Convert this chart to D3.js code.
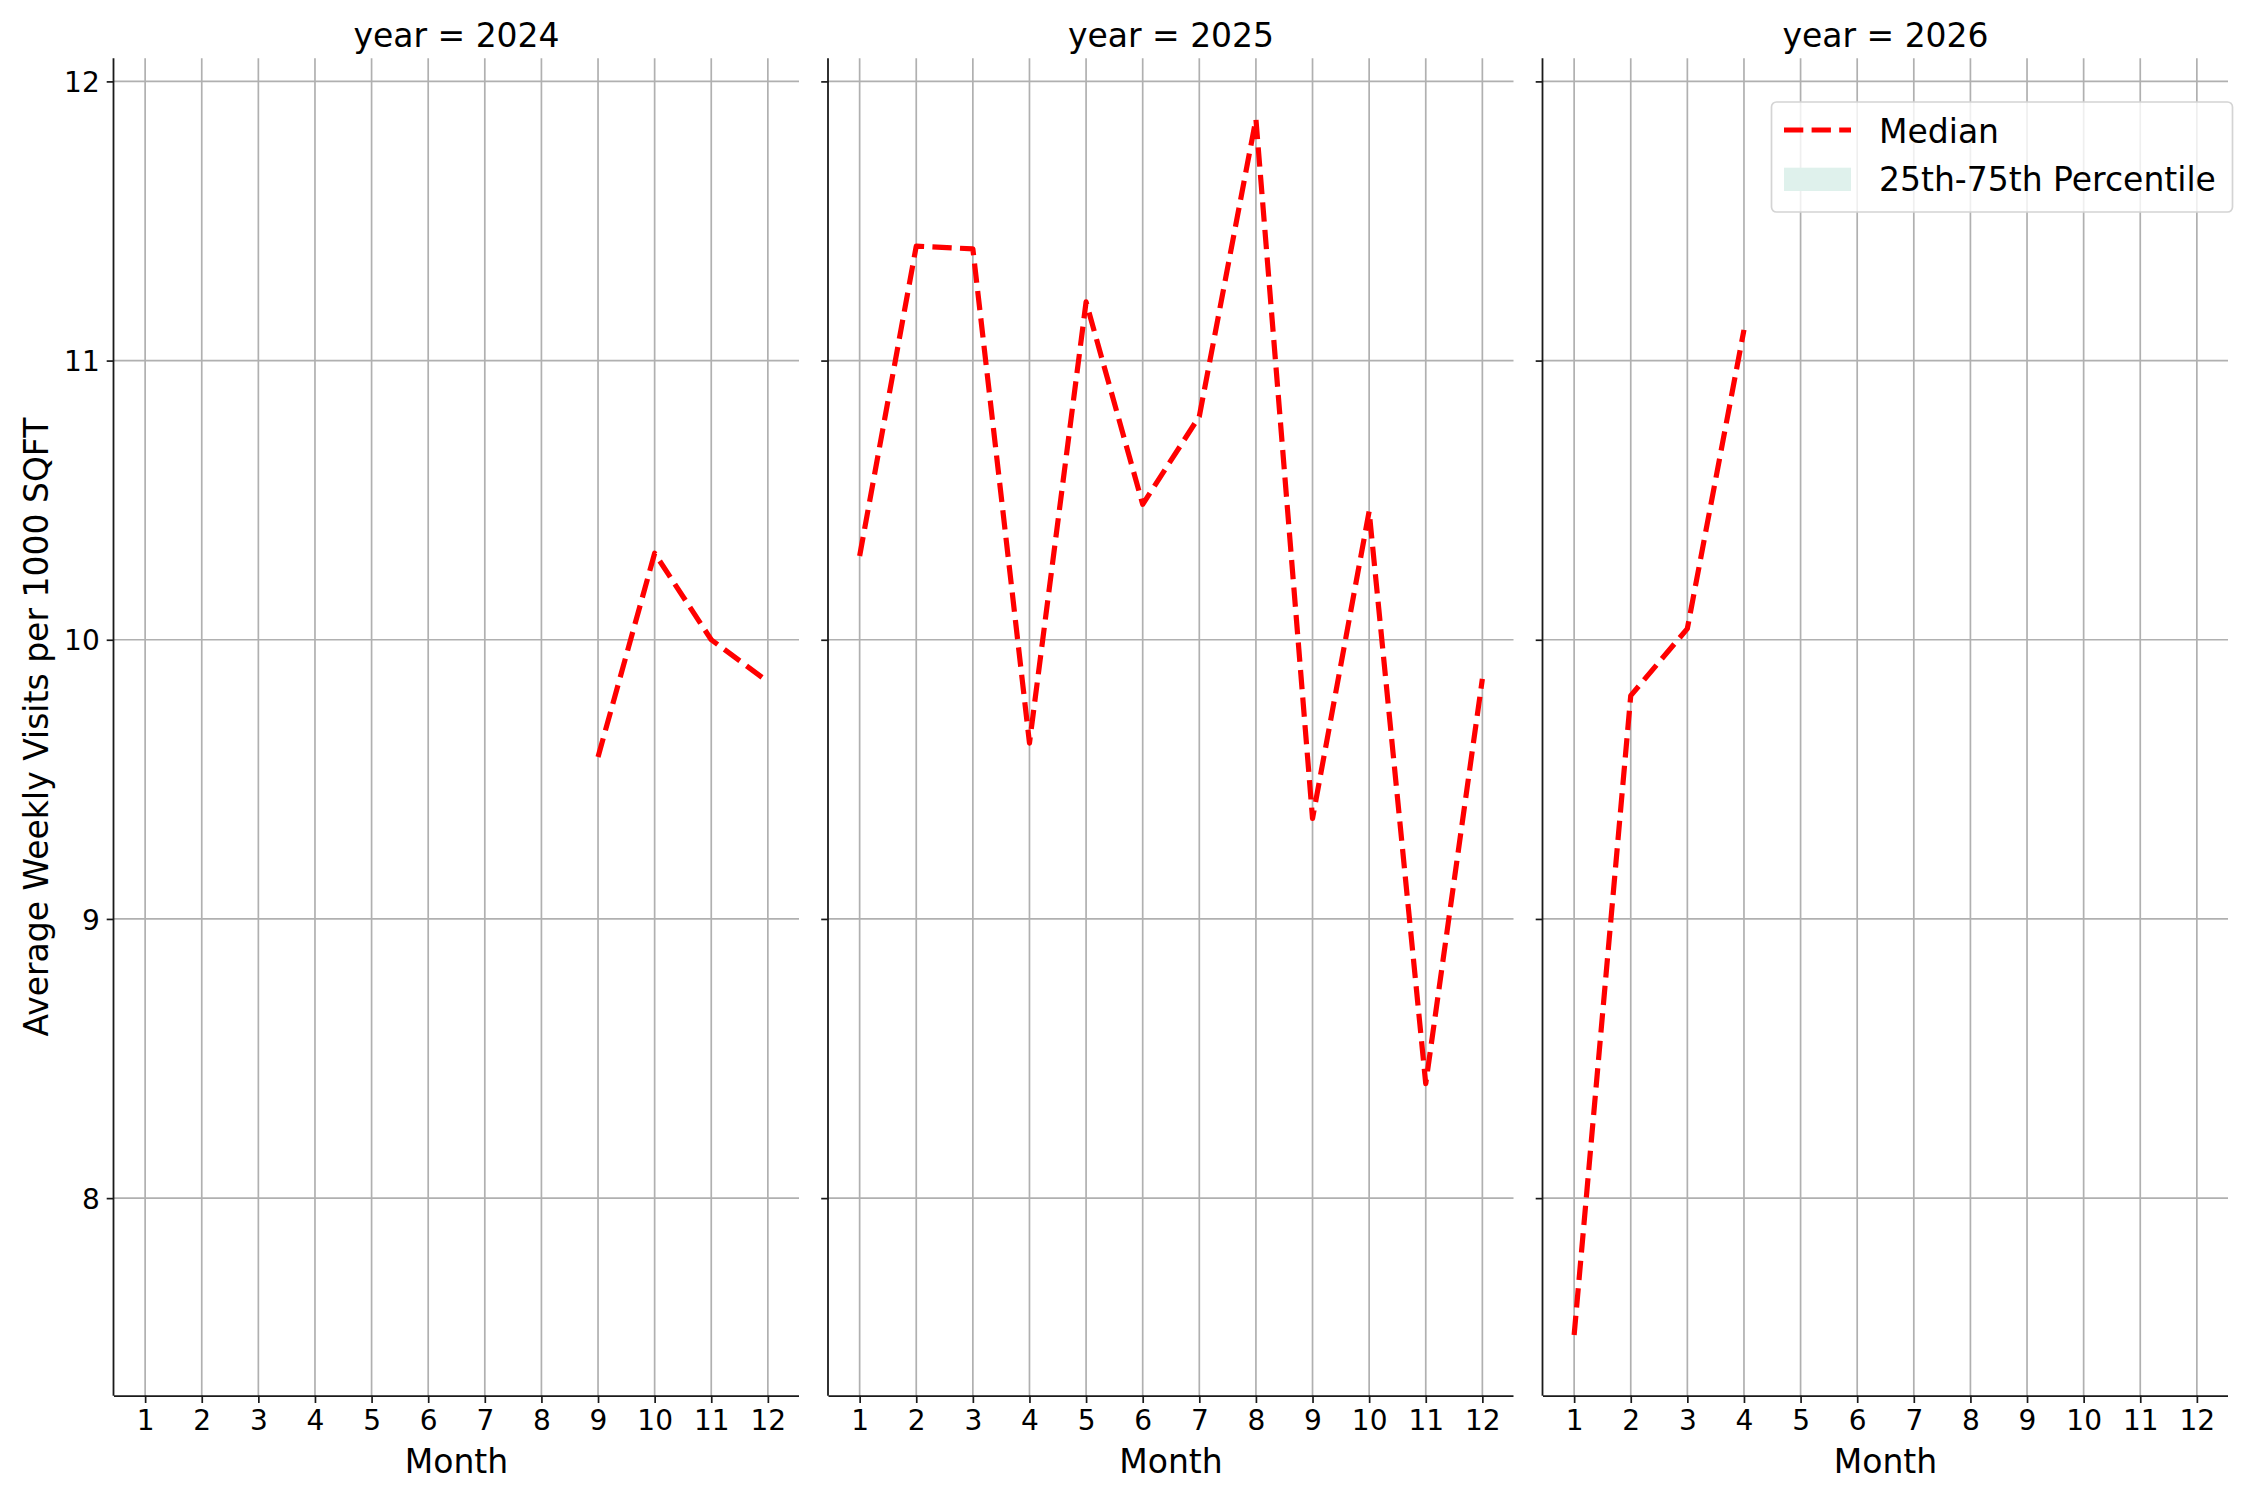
<!DOCTYPE html>
<html>
<head>
<meta charset="utf-8">
<script src="https://cdn.jsdelivr.net/npm/d3@7"></script>
<style>
  body { margin: 0; background: #fff; }
  svg { display: block; font-family: "DejaVu Sans", sans-serif; }
</style>
</head>
<body>
<div id="chart"></div>
<script>
// Datos del gráfico
const years = [2024, 2025, 2026];
const monthTicks = [1, 2, 3, 4, 5, 6, 7, 8, 9, 10, 11, 12];
const yTicks = [8, 9, 10, 11, 12];

const months2024 = [9, 10, 11, 12];
const median2024 = [9.58, 10.31, 10.00, 9.85];

const months2025 = [1, 2, 3, 4, 5, 6, 7, 8, 9, 10, 11, 12];
const median2025 = [10.30, 11.41, 11.40, 9.63, 11.21, 10.485, 10.80, 11.865, 9.36, 10.46, 8.41, 9.86];

const months2026 = [1, 2, 3, 4];
const median2026 = [7.51, 9.80, 10.04, 11.11];

const legendLabels = ['Median', '25th-75th Percentile'];

// Series por panel
const panels = [
    { year: years[0], months: months2024, median: median2024 },
    { year: years[1], months: months2025, median: median2025 },
    { year: years[2], months: months2026, median: median2026 }
];

const chartW = 2250, chartH = 1500;
const panelLeft = [114, 828.5, 1543];
const panelW = 685;
const plotTop = 58.3, plotBottom = 1395.7;

const svg = d3.select('#chart').append('svg')
    .attr('width', chartW)
    .attr('height', chartH);

// Escala Y compartida con margen del 5%
const allValues = [].concat(median2024, median2025, median2026);
const yMin = d3.min(allValues), yMax = d3.max(allValues);
const yPad = (yMax - yMin) * 0.05;
const y = d3.scaleLinear()
    .domain([yMin - yPad, yMax + yPad])
    .range([plotBottom, plotTop]);

const gridColor = '#b0b0b0';
const axisColor = '#1a1a1a';

panels.forEach((p, i) => {
    const x0 = panelLeft[i];
    const x = d3.scaleLinear()
        .domain([0.45, 12.55])
        .range([x0, x0 + panelW]);

    const g = svg.append('g');

    // Rejilla vertical
    g.selectAll('.vgrid')
        .data(monthTicks)
        .enter().append('line')
        .attr('x1', d => x(d)).attr('x2', d => x(d))
        .attr('y1', plotTop).attr('y2', plotBottom)
        .attr('stroke', gridColor)
        .attr('stroke-width', 1.7);

    // Rejilla horizontal
    g.selectAll('.hgrid')
        .data(yTicks)
        .enter().append('line')
        .attr('x1', x0).attr('x2', x0 + panelW)
        .attr('y1', d => y(d)).attr('y2', d => y(d))
        .attr('stroke', gridColor)
        .attr('stroke-width', 1.7);

    // Eje X
    const xAxis = g.append('g')
        .attr('transform', `translate(0,${plotBottom})`)
        .call(d3.axisBottom(x).tickValues(monthTicks).tickSize(7.3).tickPadding(7).tickFormat(d3.format('d')));
    xAxis.select('.domain').attr('stroke', axisColor).attr('stroke-width', 1.8)
        .attr('d', `M${x0},0.5H${x0 + panelW}`);
    xAxis.selectAll('.tick line').attr('stroke', axisColor).attr('stroke-width', 1.7);
    xAxis.selectAll('.tick text')
        .attr('fill', '#000')
        .attr('font-size', 28)
        .attr('font-family', 'DejaVu Sans')
        .attr('dy', '0.72em');

    // Eje Y
    const yAxis = g.append('g')
        .attr('transform', `translate(${x0},0)`)
        .call(d3.axisLeft(y).tickValues(yTicks).tickSize(7.3).tickPadding(7)
            .tickFormat(i === 0 ? d3.format('d') : () => ''));
    yAxis.select('.domain').attr('stroke', axisColor).attr('stroke-width', 1.8)
        .attr('d', `M-0.5,${plotTop}V${plotBottom}`);
    yAxis.selectAll('.tick line').attr('stroke', axisColor).attr('stroke-width', 1.7);
    yAxis.selectAll('.tick text')
        .attr('fill', '#000')
        .attr('font-size', 28)
        .attr('font-family', 'DejaVu Sans')
        .attr('dy', '0.36em');

    // Título del panel
    g.append('text')
        .attr('x', x0 + panelW / 2)
        .attr('y', 46.5)
        .attr('text-anchor', 'middle')
        .attr('font-size', 33)
        .text(`year = ${p.year}`);

    // Etiqueta del eje X
    g.append('text')
        .attr('x', x0 + panelW / 2)
        .attr('y', 1473)
        .attr('text-anchor', 'middle')
        .attr('font-size', 33)
        .text('Month');

    // Línea de la mediana
    const line = d3.line()
        .x(d => x(d.m))
        .y(d => y(d.v));

    g.append('path')
        .datum(p.months.map((m, k) => ({ m: m, v: p.median[k] })))
        .attr('fill', 'none')
        .attr('stroke', '#ff0000')
        .attr('stroke-width', 5.2)
        .attr('stroke-dasharray', '19.3 8.3')
        .attr('stroke-linejoin', 'round')
        .attr('d', line);
});

// Etiqueta del eje Y
svg.append('text')
    .attr('transform', `translate(48,${(plotTop + plotBottom) / 2}) rotate(-90)`)
    .attr('text-anchor', 'middle')
    .attr('font-size', 33)
    .text('Average Weekly Visits per 1000 SQFT');

// Leyenda
const legend = svg.append('g');
legend.append('rect')
    .attr('x', 1771.5).attr('y', 102)
    .attr('width', 461).attr('height', 110)
    .attr('rx', 5)
    .attr('fill', '#fff').attr('fill-opacity', 0.8)
    .attr('stroke', '#d4d4d4').attr('stroke-width', 1.7);
legend.append('line')
    .attr('x1', 1784).attr('x2', 1851)
    .attr('y1', 130).attr('y2', 130)
    .attr('stroke', '#ff0000')
    .attr('stroke-width', 5.2)
    .attr('stroke-dasharray', '19.3 8.3');
legend.append('rect')
    .attr('x', 1784).attr('y', 167.7)
    .attr('width', 67).attr('height', 23.3)
    .attr('fill', 'rgb(223,241,236)');
legend.selectAll('.lbl')
    .data(legendLabels)
    .enter().append('text')
    .attr('x', 1879)
    .attr('y', (d, i) => i === 0 ? 142.7 : 190.5)
    .attr('font-size', 33)
    .text(d => d);
</script>
</body>
</html>
